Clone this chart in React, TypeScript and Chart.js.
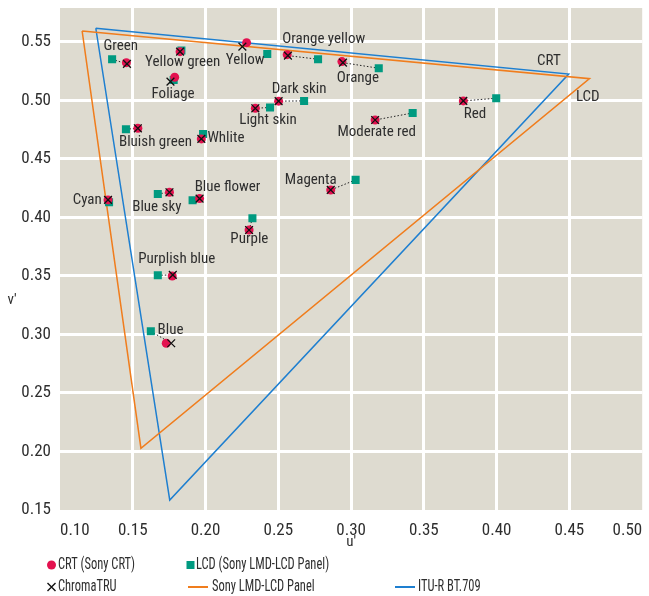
import React, { useEffect, useRef } from "react";
import { Chart, registerables } from "chart.js";

Chart.register(...registerables);

// ---- data (CIE 1976 u'v') ----
const patchNames = [
  "Dark skin", "Light skin", "Blue sky", "Foliage", "Blue flower", "Bluish green",
  "Orange", "Purplish blue", "Moderate red", "Purple", "Yellow green", "Orange yellow",
  "Blue", "Green", "Red", "Yellow", "Magenta", "Cyan", "White",
];
const crtU = [0.2502, 0.2342, 0.1752, 0.1788, 0.1959, 0.1535, 0.2937, 0.1771, 0.3165, 0.2299, 0.1825, 0.2561, 0.1730, 0.1456, 0.3771, 0.2282, 0.2860, 0.1330, 0.1971];
const crtV = [0.4994, 0.4933, 0.4215, 0.5198, 0.4161, 0.4762, 0.5332, 0.3500, 0.4833, 0.3893, 0.5417, 0.5391, 0.2925, 0.5323, 0.4996, 0.5494, 0.4235, 0.4150, 0.4671];
const lcdU = [0.2677, 0.2443, 0.1672, 0.1781, 0.1911, 0.1453, 0.3190, 0.1672, 0.3423, 0.2322, 0.1834, 0.2773, 0.1624, 0.1358, 0.3997, 0.2424, 0.3031, 0.1337, 0.1983];
const lcdV = [0.4996, 0.4940, 0.4201, 0.5175, 0.4147, 0.4754, 0.5275, 0.3506, 0.4893, 0.3993, 0.5426, 0.5352, 0.3027, 0.5352, 0.5019, 0.5397, 0.4321, 0.4130, 0.4714];
const truU = [0.2502, 0.2342, 0.1752, 0.1759, 0.1959, 0.1535, 0.2944, 0.1775, 0.3165, 0.2299, 0.1825, 0.2566, 0.1764, 0.1460, 0.3771, 0.2253, 0.2860, 0.1330, 0.1971];
const truV = [0.4994, 0.4933, 0.4215, 0.5161, 0.4161, 0.4762, 0.5323, 0.3509, 0.4833, 0.3893, 0.5417, 0.5383, 0.2925, 0.5312, 0.4996, 0.5460, 0.4235, 0.4150, 0.4671];
const connected = [true, true, true, false, true, true, true, true, true, true, true, true, true, true, true, false, true, true, true];

// gamut triangles (closed)
const lcdGamutU = [0.1152, 0.4638, 0.1556, 0.1152];
const lcdGamutV = [0.5594, 0.5186, 0.2028, 0.5594];
const ituGamutU = [0.1246, 0.4495, 0.1754, 0.1246];
const ituGamutV = [0.5617, 0.5225, 0.1585, 0.5617];

// annotation texts and their anchor (u', v')
const labelTexts = [
  "Green", "Yellow green", "Foliage", "Yellow", "Bluish green", "Whlite", "Light skin",
  "Dark skin", "Orange yellow", "Orange", "Moderate red", "Red", "CRT", "LCD", "Cyan",
  "Blue sky", "Blue flower", "Purple", "Purplish blue", "Blue", "Magenta",
];
const labelU = [0.1417, 0.1843, 0.1777, 0.2272, 0.1656, 0.2140, 0.2429, 0.2643, 0.2812, 0.3047, 0.3176, 0.3851, 0.4359, 0.4626, 0.1187, 0.1665, 0.2151, 0.2301, 0.1802, 0.1759, 0.2723];
const labelV = [0.5466, 0.5323, 0.5056, 0.5346, 0.4639, 0.4679, 0.4833, 0.5098, 0.5526, 0.5190, 0.4728, 0.4882, 0.5338, 0.5024, 0.4150, 0.4084, 0.4255, 0.3816, 0.3645, 0.3038, 0.4321];

const xTicks = [0.1, 0.15, 0.2, 0.25, 0.3, 0.35, 0.4, 0.45, 0.5];
const yTicks = [0.15, 0.2, 0.25, 0.3, 0.35, 0.4, 0.45, 0.5, 0.55];
const xMin = 0.1, xMax = 0.5, yMin = 0.15, yMax = 0.579;

const legendItems = [
  "CRT (Sony CRT)", "LCD (Sony LMD-LCD Panel)", "ChromaTRU", "Sony LMD-LCD Panel", "ITU-R BT.709",
];

// ---- styles ----
const FONT = '"Liberation Sans Narrow", "Roboto Condensed", "Liberation Sans", Arial, sans-serif';
const BG = "#dedbd0";
const RED = "#e3114f";
const TEAL = "#009a80";
const ORANGE = "#f07d1d";
const BLUE = "#1e7fd0";
const TEXT = "#2e2e2e";

function pts(us: number[], vs: number[]) {
  return us.map((u, i) => ({ x: u, y: vs[i] }));
}

function drawText(ctx: CanvasRenderingContext2D, text: string, x: number, y: number, size: number, align: CanvasTextAlign, sx = 1) {
  ctx.save();
  ctx.font = `${size}px ${FONT}`;
  ctx.fillStyle = TEXT;
  ctx.textAlign = align;
  ctx.textBaseline = "middle";
  ctx.translate(x, y);
  ctx.scale(sx, 1);
  ctx.fillText(text, 0, 0);
  ctx.restore();
}

const decorPlugin = {
  id: "decor",
  beforeDraw(chart: any) {
    const { ctx, chartArea } = chart;
    ctx.save();
    ctx.fillStyle = BG;
    ctx.fillRect(chartArea.left, chartArea.top, chartArea.right - chartArea.left, chartArea.bottom - chartArea.top);
    ctx.restore();
  },
  afterDatasetsDraw(chart: any) {
    const { ctx } = chart;
    const xs = chart.scales.x;
    const ys = chart.scales.y;
    labelTexts.forEach((t, i) => {
      drawText(ctx, t, xs.getPixelForValue(labelU[i]), ys.getPixelForValue(labelV[i]), 15, "center");
    });
  },
  afterDraw(chart: any) {
    const { ctx, chartArea } = chart;
    // axis titles
    drawText(ctx, "u'", (chartArea.left + chartArea.right) / 2, 542, 15, "center");
    drawText(ctx, "v'", 12, 300, 15, "center");
    // legend
    const r1 = 565, r2 = 587;
    ctx.save();
    ctx.fillStyle = RED;
    ctx.beginPath();
    ctx.arc(51.5, r1, 4.5, 0, Math.PI * 2);
    ctx.fill();
    ctx.fillStyle = TEAL;
    ctx.fillRect(186.5, r1 - 4, 8, 8);
    ctx.strokeStyle = "#111";
    ctx.lineWidth = 1.4;
    ctx.beginPath();
    ctx.moveTo(47.5, r2 - 4); ctx.lineTo(55.5, r2 + 4);
    ctx.moveTo(55.5, r2 - 4); ctx.lineTo(47.5, r2 + 4);
    ctx.stroke();
    ctx.lineWidth = 2;
    ctx.strokeStyle = ORANGE;
    ctx.beginPath(); ctx.moveTo(188, r2); ctx.lineTo(208, r2); ctx.stroke();
    ctx.strokeStyle = BLUE;
    ctx.beginPath(); ctx.moveTo(395, r2); ctx.lineTo(415, r2); ctx.stroke();
    ctx.restore();
    const sx = 0.78;
    drawText(ctx, legendItems[0], 58, r1, 16, "left", sx);
    drawText(ctx, legendItems[1], 196, r1, 16, "left", sx);
    drawText(ctx, legendItems[2], 58, r2, 16, "left", sx);
    drawText(ctx, legendItems[3], 212, r2, 16, "left", sx);
    drawText(ctx, legendItems[4], 418, r2, 16, "left", sx);
  },
};

export default function App() {
  const ref = useRef<HTMLCanvasElement>(null);

  useEffect(() => {
    const canvas = ref.current!;
    const connectorData: any[] = [];
    patchNames.forEach((_, i) => {
      if (connected[i]) {
        connectorData.push({ x: lcdU[i], y: lcdV[i] }, { x: truU[i], y: truV[i] }, { x: NaN, y: NaN });
      }
    });

    const gridColor = (min: number, max: number) => (c: any) => {
      const v = c.tick ? c.tick.value : 0;
      return Math.abs(v - min) < 1e-6 || Math.abs(v - max) < 1e-6 ? "rgba(0,0,0,0)" : "#ffffff";
    };

    const noPad = (s: any) => {
      s.paddingTop = 0;
      s.paddingBottom = 0;
      s.paddingLeft = 0;
      s.paddingRight = 0;
    };

    const chart = new Chart(canvas, {
      type: "scatter",
      data: {
        datasets: [
          {
            label: "ChromaTRU",
            data: pts(truU, truV),
            pointStyle: "crossRot",
            pointRadius: 5.5,
            borderColor: "#111",
            backgroundColor: "#111",
            pointBorderWidth: 1.3,
          } as any,
          {
            label: "CRT",
            data: pts(crtU, crtV),
            pointStyle: "circle",
            pointRadius: 4.5,
            backgroundColor: RED,
            borderColor: RED,
            pointBorderWidth: 0,
          },
          {
            label: "LCD",
            data: pts(lcdU, lcdV),
            pointStyle: "rect",
            pointRadius: 5.7,
            backgroundColor: TEAL,
            borderColor: TEAL,
            pointBorderWidth: 0,
          },
          {
            label: "connectors",
            data: connectorData,
            showLine: true,
            spanGaps: false,
            pointRadius: 0,
            borderColor: "#222",
            borderWidth: 1,
            borderDash: [1.5, 2],
          } as any,
          {
            label: "Sony LMD-LCD Panel",
            data: pts(lcdGamutU, lcdGamutV),
            showLine: true,
            pointRadius: 0,
            borderColor: ORANGE,
            borderWidth: 1.5,
          } as any,
          {
            label: "ITU-R BT.709",
            data: pts(ituGamutU, ituGamutV),
            showLine: true,
            pointRadius: 0,
            borderColor: BLUE,
            borderWidth: 1.5,
          } as any,
        ],
      },
      options: {
        responsive: false,
        animation: false,
        events: [],
        layout: { padding: { top: 8, right: 4, left: 0, bottom: 0 } },
        plugins: {
          legend: { display: false },
          tooltip: { enabled: false },
        },
        scales: {
          x: {
            type: "linear",
            min: xMin,
            max: xMax,
            afterFit: (s: any) => { s.height = 86; noPad(s); },
            afterBuildTicks: (s: any) => { s.ticks = xTicks.map((v) => ({ value: v })); },
            border: { display: false },
            grid: { color: gridColor(xMin, xMax), lineWidth: 3, drawTicks: false },
            ticks: {
              align: "inner",
              padding: 11,
              color: TEXT,
              font: { family: FONT, size: 17 },
              callback: (v: any) => Number(v).toFixed(2),
            },
          },
          y: {
            type: "linear",
            min: yMin,
            max: yMax,
            afterFit: (s: any) => { s.width = 60; noPad(s); },
            afterBuildTicks: (s: any) => { s.ticks = yTicks.map((v) => ({ value: v })); },
            border: { display: false },
            grid: { color: gridColor(yMin, yMax), lineWidth: 3, drawTicks: false },
            ticks: {
              padding: 9,
              color: TEXT,
              font: { family: FONT, size: 17 },
              callback: (v: any) => Number(v).toFixed(2),
            },
          },
        },
      } as any,
      plugins: [decorPlugin],
    });
    return () => chart.destroy();
  }, []);

  return (
    <div style={{ position: "fixed", left: 0, top: 0, width: 649, height: 596, background: "#fff" }}>
      <canvas ref={ref} width={649} height={596} style={{ width: 649, height: 596, display: "block" }} />
    </div>
  );
}
